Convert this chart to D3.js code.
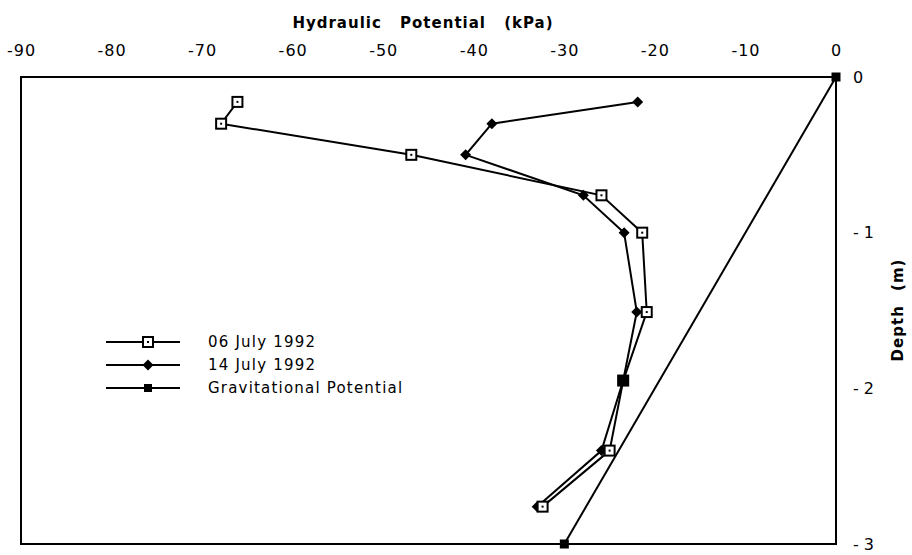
<!DOCTYPE html>
<html>
<head>
<meta charset="utf-8">
<script src="https://cdn.jsdelivr.net/npm/d3@7"></script>
<style>
  body { margin: 0; background: #fff; }
  text { font-family: "DejaVu Sans", sans-serif; fill: #000; }
</style>
</head>
<body>
<svg id="chart" width="912" height="555"></svg>
<script>
// data
const depths = [-0.16, -0.30, -0.50, -0.76, -1.0, -1.51, -1.95, -2.40, -2.76];
const july06 = [-66.1, -67.9, -46.9, -25.9, -21.4, -20.9, -23.5, -25.0, -32.4];
const july14 = [-21.9, -38.0, -40.9, -27.9, -23.4, -22.0, -23.5, -25.9, -33.0];
const gravDepths = [0, -3];
const gravValues = [0, -30];
const xTicks = [-90, -80, -70, -60, -50, -40, -30, -20, -10, 0];
const yTicks = [0, -1, -2, -3];
const legendLabels = ["06 July 1992", "14 July 1992", "Gravitational Potential"];

const svg = d3.select("#chart");
const margin = { left: 21, right: 76, top: 77, bottom: 11 };
const width = 912, height = 555;

const x = d3.scaleLinear().domain([-90, 0]).range([margin.left, width - margin.right]);
const y = d3.scaleLinear().domain([0, -3]).range([margin.top, height - margin.bottom]);

// frame
svg.append("rect")
    .attr("x", x(-90)).attr("y", y(0))
    .attr("width", x(0) - x(-90)).attr("height", y(-3) - y(0))
    .attr("fill", "none").attr("stroke", "#000").attr("stroke-width", 2);

// top axis labels (plain hyphen, as in the original)
const topAxis = d3.axisTop(x).tickValues(xTicks).tickSize(0).tickPadding(21).tickFormat(d => String(d));
svg.append("g")
    .attr("transform", `translate(0,${y(0)})`)
    .call(topAxis)
    .call(g => g.select(".domain").remove())
    .call(g => g.selectAll("text").attr("font-size", 16).attr("font-family", "DejaVu Sans")
        .style("letter-spacing", "1px"));

// right axis labels
const rightAxis = d3.axisRight(y).tickValues(yTicks).tickSize(0).tickPadding(17)
    .tickFormat(d => d === 0 ? "0" : "- " + Math.abs(d));
svg.append("g")
    .attr("transform", `translate(${x(0)},0)`)
    .call(rightAxis)
    .call(g => g.select(".domain").remove())
    .call(g => g.selectAll("text").attr("font-size", 16).attr("font-family", "DejaVu Sans"));

// titles
svg.append("text")
    .attr("x", 423).attr("y", 28)
    .attr("text-anchor", "middle")
    .attr("font-size", 15).attr("font-weight", "bold")
    .style("letter-spacing", "1px").style("word-spacing", "12px")
    .text("Hydraulic Potential (kPa)");

svg.append("text")
    .attr("transform", "translate(903,310) rotate(-90)")
    .attr("text-anchor", "middle")
    .attr("font-size", 15).attr("font-weight", "bold")
    .style("letter-spacing", "1px").style("word-spacing", "8px")
    .text("Depth (m)");

const line = d3.line().x(d => x(d[0])).y(d => y(d[1]));

const s06 = july06.map((v, i) => [v, depths[i]]);
const s14 = july14.map((v, i) => [v, depths[i]]);
const sGrav = gravValues.map((v, i) => [v, gravDepths[i]]);

function drawLine(data) {
    svg.append("path").datum(data)
        .attr("d", line)
        .attr("fill", "none").attr("stroke", "#000").attr("stroke-width", 2);
}
drawLine(sGrav);
drawLine(s14);
drawLine(s06);

// markers
function openSquare(g, cx, cy) {
    g.append("rect").attr("x", cx - 5).attr("y", cy - 5).attr("width", 10).attr("height", 10)
        .attr("fill", "#fff").attr("stroke", "#000").attr("stroke-width", 2);
    g.append("rect").attr("x", cx - 1).attr("y", cy - 1).attr("width", 2).attr("height", 2).attr("fill", "#000");
}
function diamond(g, cx, cy) {
    g.append("path").attr("d", `M${cx},${cy - 5.5}L${cx + 5.5},${cy}L${cx},${cy + 5.5}L${cx - 5.5},${cy}Z`)
        .attr("fill", "#000");
}
function filledSquare(g, cx, cy, s = 9) {
    g.append("rect").attr("x", cx - s / 2).attr("y", cy - s / 2).attr("width", s).attr("height", s).attr("fill", "#000");
}

const markerG = svg.append("g");
s14.forEach(d => diamond(markerG, x(d[0]), y(d[1])));
s06.forEach(d => openSquare(markerG, x(d[0]), y(d[1])));
// the two series meet near -1.95 m, where the marks merge into a solid block
filledSquare(markerG, x(july06[6]), y(depths[6]), 11);
sGrav.forEach(d => filledSquare(markerG, x(d[0]), y(d[1])));

// legend
const legendG = svg.append("g");
const markers = [openSquare, diamond, (g, cx, cy) => filledSquare(g, cx, cy, 8)];
legendLabels.forEach((label, i) => {
    const ly = 342 + i * 23;
    legendG.append("line").attr("x1", 106).attr("x2", 180).attr("y1", ly).attr("y2", ly)
        .attr("stroke", "#000").attr("stroke-width", 2);
    markers[i](legendG, 148, ly);
    legendG.append("text").attr("x", 208).attr("y", ly + 5)
        .attr("font-size", 15).style("letter-spacing", "1.2px").text(label);
});
</script>
</body>
</html>
